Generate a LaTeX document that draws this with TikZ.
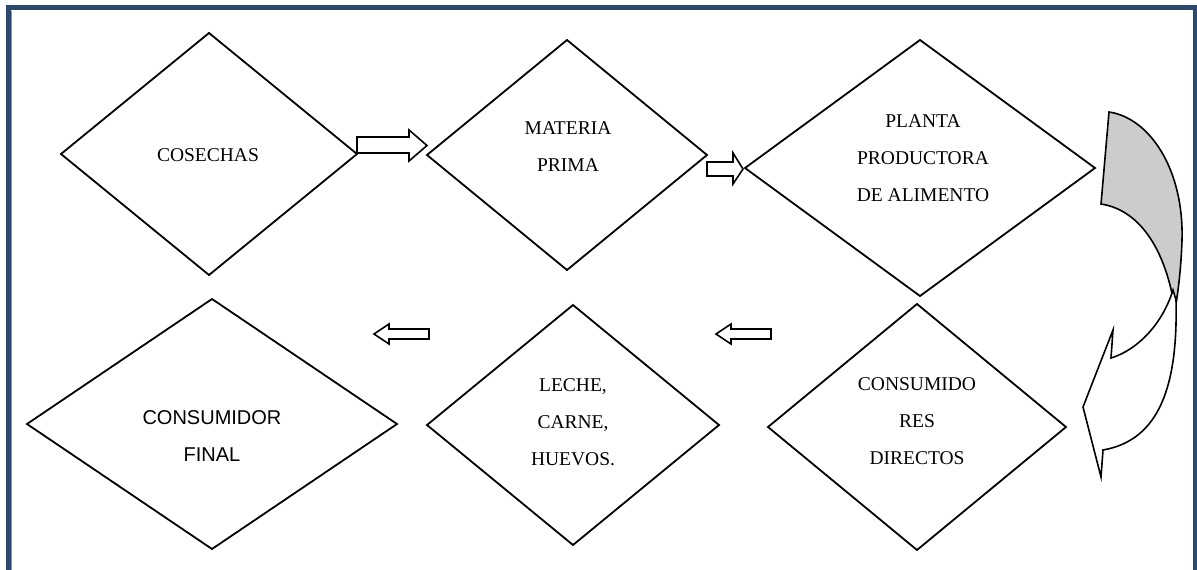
\documentclass[tikz,border=0pt]{standalone}
\usepackage{fontspec}
\setmainfont{Liberation Serif}
\newfontfamily\arialf{Liberation Sans}
\usetikzlibrary{shapes.geometric}
\definecolor{frameblue}{RGB}{44,72,106}
\definecolor{framelight}{RGB}{120,150,190}
\definecolor{shadegray}{RGB}{204,204,204}
\begin{document}
\begin{tikzpicture}[x=1pt,y=-1pt,
  dia/.style={diamond, draw=black, line width=1.8pt, inner sep=0pt, outer sep=0pt},
  lbl/.style={align=center, inner sep=0pt, font=\fontsize{19.5}{37}\selectfont},
  lbla/.style={align=center, inner sep=0pt, font=\arialf\fontsize{20}{37}\selectfont},
  blockarrow/.style={draw=black, line width=1.6pt, fill=white, line join=miter},
  curvearrow/.style={draw=black, line width=1.6pt, line join=miter}]
\useasboundingbox (0,0) rectangle (1197,570);
\clip (0,0) rectangle (1197,570);
% frame
\draw[frameblue, line width=5pt] (8.5,7.5) rectangle (1195,620);
\draw[framelight, line width=0.8pt] (11.5,10.5) -- (11.5,620);
% diamonds
\node[dia, minimum width=296pt, minimum height=242pt] (cosechas) at (209,154) {};
\node[dia, minimum width=280pt, minimum height=230pt] (materia) at (567,155) {};
\node[dia, minimum width=350pt, minimum height=256pt] (planta) at (920,168) {};
\node[dia, minimum width=370pt, minimum height=250pt] (final) at (212,424) {};
\node[dia, minimum width=292pt, minimum height=240pt] (leche) at (573,425) {};
\node[dia, minimum width=298pt, minimum height=246pt] (directos) at (917,427) {};
% labels
\node[lbl] (tcosechas) at (208,155.2) {COSECHAS};
\node[lbl] (tmateria) at (568,146.2) {MATERIA\\PRIMA};
\node[lbl] (tplanta) at (923,157.7) {PLANTA\\PRODUCTORA\\DE ALIMENTO};
\node[lbla] (tfinal) at (212,436.2) {CONSUMIDOR\\FINAL};
\node[lbl] (tleche) at (573,422.6) {LECHE,\\CARNE,\\HUEVOS.};
\node[lbl] (tdirectos) at (917,421) {CONSUMIDO\\RES\\DIRECTOS};
% block arrows
\draw[blockarrow] (357,137) -- (409,137) -- (409,130) -- (427,145.5) -- (409,161) -- (409,153) -- (357,153) -- cycle;
\draw[blockarrow] (707,162) -- (733,162) -- (733,153) -- (743,169) -- (733,184) -- (733,176) -- (707,176) -- cycle;
\draw[blockarrow] (429,329) -- (389,329) -- (389,324) -- (374,334) -- (389,344) -- (389,339) -- (429,339) -- cycle;
\draw[blockarrow] (771,329) -- (731,329) -- (731,324) -- (716,334) -- (731,344) -- (731,339) -- (771,339) -- cycle;
% curved arrow
\draw[curvearrow, fill=shadegray] (1109,112) .. controls (1150,118) and (1184,170) .. (1182,240)
  .. controls (1181,270) and (1178,292) .. (1175,310)
  .. controls (1166,250) and (1140,210) .. (1101,204) -- cycle;
\draw[curvearrow, fill=white] (1173,290) .. controls (1162,325) and (1137,350) .. (1111,358)
  -- (1113,330) -- (1083,407) -- (1101,477) -- (1103,450)
  .. controls (1160,440) and (1178,385) .. (1176,300) -- cycle;
\end{tikzpicture}
\end{document}
